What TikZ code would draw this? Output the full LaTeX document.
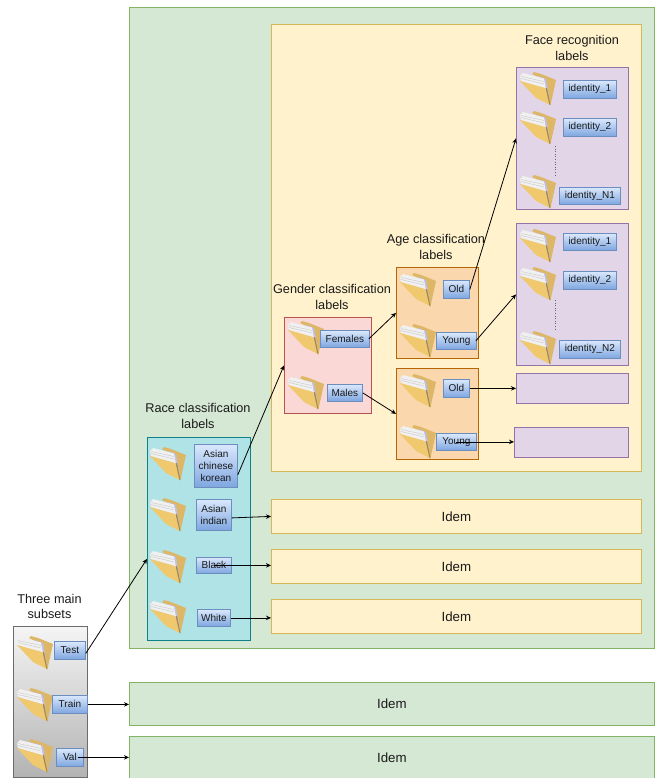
\documentclass[tikz,border=0pt]{standalone}
\usepackage{fontspec}
\setmainfont{Liberation Sans}
\usetikzlibrary{arrows.meta}
\definecolor{txt}{HTML}{1A1A1A}
\definecolor{grnF}{HTML}{D5E8D4}\definecolor{grnD}{HTML}{82B366}
\definecolor{ylwF}{HTML}{FFF2CC}\definecolor{ylwD}{HTML}{D6B656}
\definecolor{purF}{HTML}{E1D5E7}\definecolor{purD}{HTML}{9673A6}
\definecolor{redF}{HTML}{F8CECC}\definecolor{redD}{HTML}{B85450}
\definecolor{orgF}{HTML}{FAD7AC}\definecolor{orgD}{HTML}{B46504}
\definecolor{teaF}{HTML}{B0E3E6}\definecolor{teaD}{HTML}{0E8088}
\definecolor{bluT}{HTML}{DAE8FC}\definecolor{bluB}{HTML}{7EA6E0}\definecolor{bluD}{HTML}{6C8EBF}
\definecolor{fldA}{HTML}{F0C86E}\definecolor{fldB}{HTML}{DDB765}\definecolor{fldC}{HTML}{A88A45}
\tikzset{
  x=1pt,y=-1pt,
  panel/.style={draw,line width=0.8pt},
  tag/.style={draw=bluD,line width=0.8pt,top color=bluT,bottom color=bluB,inner sep=0pt,align=center,text=txt,font=\fontsize{10}{12.2}\selectfont},
  head/.style={align=center,text=txt,font=\fontsize{12.7}{15.5}\selectfont},
  conn/.style={-{Stealth[length=5pt,width=4.5pt]},line width=0.8pt,black},
  idemtxt/.style={text=txt,font=\fontsize{13.3}{15}\selectfont},
  folderpic/.pic={
    \fill[fldB] (12,3) -- (14,1) -- (21,3) -- (36,9) -- (30.5,34) -- (26,10) -- cycle;
    \fill[gray!55!blue!35] (18,5) -- (26,8) -- (30,31) -- (27,30) -- cycle;
    \fill[gray!12] (0,5) -- (3,2) -- (24,7.5) -- (27.5,26) -- (24,17) -- (1,10) -- cycle;
    \draw[gray!50,line width=0.3pt] (1,5.5) -- (24,10.5) (1,7.5) -- (24,13);
    \fill[fldA] (0,10) -- (25,17) -- (30,34) -- (16,27) -- cycle;
    \fill[fldC] (25.5,17) -- (27,17) -- (30.5,34) -- (29.5,34) -- cycle;
  }
}
\newcommand{\tagbox}[6]{\node[tag,minimum width=#4 pt-#2 pt,minimum height=#5 pt-#3 pt,anchor=north west] (#1) at (#2,#3) {#6};}
\begin{document}
\begin{tikzpicture}
\useasboundingbox (0,0) rectangle (661,778);
% large panels
\node[panel,draw=grnD,fill=grnF,minimum width=525pt,minimum height=641pt,anchor=north west,inner sep=0pt] (bigG) at (129,7) {};
\node[panel,draw=ylwD,fill=ylwF,minimum width=370pt,minimum height=447pt,anchor=north west,inner sep=0pt] (bigY) at (271,24) {};
\node[panel,draw=ylwD,fill=ylwF,minimum width=370pt,minimum height=34pt,anchor=north west,inner sep=0pt,idemtxt] (idY1) at (271,499) {Idem};
\node[panel,draw=ylwD,fill=ylwF,minimum width=370pt,minimum height=34pt,anchor=north west,inner sep=0pt,idemtxt] (idY2) at (271,549) {Idem};
\node[panel,draw=ylwD,fill=ylwF,minimum width=370pt,minimum height=34pt,anchor=north west,inner sep=0pt,idemtxt] (idY3) at (271,599) {Idem};
\node[panel,draw=grnD,fill=grnF,minimum width=525pt,minimum height=43pt,anchor=north west,inner sep=0pt,idemtxt] (idG1) at (129,682) {Idem};
\node[panel,draw=grnD,fill=grnF,minimum width=525pt,minimum height=43pt,anchor=north west,inner sep=0pt,idemtxt] (idG2) at (129,736) {Idem};
% group boxes
\node[panel,draw=gray!85!black,top color=gray!8,bottom color=gray!60,minimum width=74pt,minimum height=151pt,anchor=north west,inner sep=0pt] (grayB) at (13,626) {};
\node[panel,draw=teaD,fill=teaF,minimum width=103pt,minimum height=203pt,anchor=north west,inner sep=0pt] (teal) at (147,437) {};
\node[panel,draw=redD,fill=redF!80!white,minimum width=87pt,minimum height=96pt,anchor=north west,inner sep=0pt] (redB) at (284,317) {};
\node[panel,draw=orgD,fill=orgF,minimum width=82pt,minimum height=91pt,anchor=north west,inner sep=0pt] (org1) at (396,267) {};
\node[panel,draw=orgD,fill=orgF,minimum width=82pt,minimum height=91pt,anchor=north west,inner sep=0pt] (org2) at (396,368) {};
\node[panel,draw=purD,fill=purF,minimum width=112pt,minimum height=142pt,anchor=north west,inner sep=0pt] (pur1) at (516,67) {};
\node[panel,draw=purD,fill=purF,minimum width=112pt,minimum height=142pt,anchor=north west,inner sep=0pt] (pur2) at (516,223) {};
\node[panel,draw=purD,fill=purF,minimum width=112pt,minimum height=30pt,anchor=north west,inner sep=0pt] (pur3) at (516,373) {};
\node[panel,draw=purD,fill=purF,minimum width=114pt,minimum height=30pt,anchor=north west,inner sep=0pt] (pur4) at (514,427) {};
% headings
\node[head] (hMain) at (49.5,606.5) {Three main\\subsets};
\node[head] (hRace) at (198,416) {Race classification\\labels};
\node[head] (hGen) at (332,297) {Gender classification\\labels};
\node[head] (hAge) at (436,247) {Age classification\\labels};
\node[head] (hFace) at (572,48) {Face recognition\\labels};
% folders
\foreach \fx/\fy in {17/635,17/687,17/738,150/446,150/497,150/549,150/599,288/320,288/375,400/272,400/323,400/373,400/424,520/71,520/110,520/174,520/228,520/266,520/330}
  \pic at (\fx,\fy) {folderpic};
% tags
\tagbox{test}{54}{641}{85}{659}{Test}
\tagbox{train}{52}{695}{87}{713}{Train}
\tagbox{val}{56}{748}{83}{766}{Val}
\tagbox{rAC}{194}{444}{237}{487}{Asian\\chinese\\korean}
\tagbox{rAI}{196}{499}{231}{530}{Asian\\indian}
\tagbox{rBl}{196}{557}{231}{573}{Black}
\tagbox{rWh}{197}{609}{230}{626}{White}
\tagbox{gF}{320}{330}{369}{347}{Females}
\tagbox{gM}{327}{384}{362}{401}{Males}
\tagbox{aO1}{443}{280}{469}{298}{Old}
\tagbox{aY1}{436}{332}{476}{349}{Young}
\tagbox{aO2}{443}{379}{469}{397}{Old}
\tagbox{aY2}{436}{433}{476}{450}{Young}
\tagbox{i11}{563}{80}{616}{98}{identity\_1}
\tagbox{i12}{563}{118}{616}{136}{identity\_2}
\tagbox{i1N}{559}{187}{620}{204}{identity\_N1}
\tagbox{i21}{563}{233}{616}{250}{identity\_1}
\tagbox{i22}{563}{271}{616}{289}{identity\_2}
\tagbox{i2N}{559}{340}{620}{358}{identity\_N2}
% dots
\coordinate (d1a) at (555,146); \coordinate (d1b) at (555,175);
\coordinate (d2a) at (555,300); \coordinate (d2b) at (555,330);
\draw[dotted,line width=0.6pt,black!60] (d1a) -- (d1b);
\draw[dotted,line width=0.6pt,black!60] (d2a) -- (d2b);
% connectors
\draw[conn] ([yshift=-3pt]test.east) -- ([yshift=-20pt]teal.west);
\draw[conn] (train.east) -- (train.east -| idG1.west);
\draw[conn] ([xshift=8pt]val.center) -- (val.center -| idG2.west);
\draw[conn] ([yshift=13pt]rAC.south east) -- (redB.west);
\draw[conn] ([yshift=-3pt]rAI.east) -- (idY1.west);
\draw[conn] (rBl.center) -- (rBl.center -| idY2.west);
\draw[conn] (rWh.east) -- (rWh.east -| idY3.west);
\draw[conn] ([xshift=-1pt]gF.east) -- (org1.west);
\draw[conn] (gM.east) -- (org2.west);
\draw[conn] (aO1.east) -- (pur1.west);
\draw[conn] ([xshift=-1pt]aY1.east) -- (pur2.west);
\draw[conn] (aO2.east) -- (aO2.east -| pur3.west);
\draw[conn] (aY2.center) -- (aY2.center -| pur4.west);
\end{tikzpicture}
\end{document}
